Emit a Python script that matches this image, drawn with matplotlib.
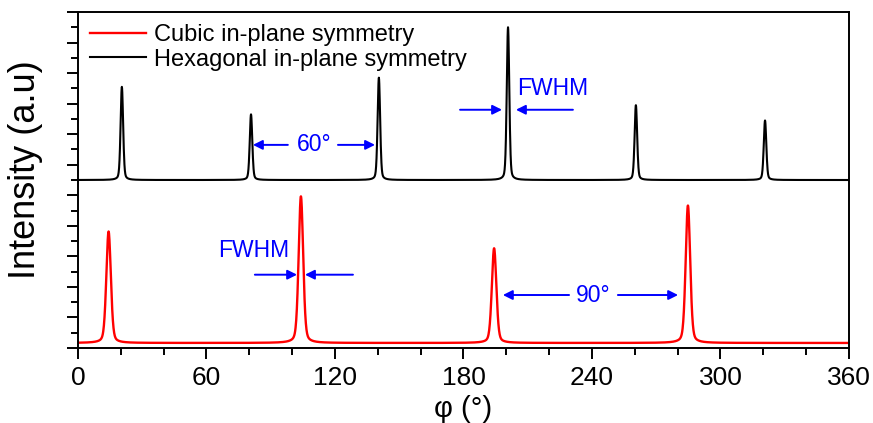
import matplotlib
matplotlib.use("Agg")
import matplotlib.pyplot as plt
import numpy as np

plt.rcParams['font.family'] = ['Liberation Sans', 'DejaVu Sans']

# peak centres (deg), heights above baseline and widths (FWHM, deg)
hex_pos = [20.5, 80.8, 140.5, 200.8, 260.5, 320.8]
hex_height = [6.1, 4.3, 6.7, 10.0, 4.9, 3.9]
hex_fwhm = 1.4
hex_base = 11.0

cub_pos = [14.3, 104.1, 194.3, 284.8]
cub_height = [7.3, 9.6, 6.2, 9.0]
cub_fwhm = 2.5
cub_base = 0.33

phi = np.linspace(0, 360, 3601)


def profile(pos, height, fwhm, base, eta=0.3):
    # pseudo-Voigt peaks on a flat background
    sig = fwhm / 2.3548
    gam = fwhm / 2
    y = np.full_like(phi, base)
    for p, h in zip(pos, height):
        g = np.exp(-0.5 * ((phi - p) / sig) ** 2)
        l = 1 / (1 + ((phi - p) / gam) ** 2)
        y += h * ((1 - eta) * g + eta * l)
    return y


fig = plt.figure(figsize=(8.73, 4.23), dpi=100)
ax = fig.add_axes([0.0893, 0.1773, 0.8832, 0.7943])

ax.plot(phi, profile(cub_pos, cub_height, cub_fwhm, cub_base), color='red',
        lw=1.7, label='Cubic in-plane symmetry')
ax.plot(phi, profile(hex_pos, hex_height, hex_fwhm, hex_base), color='black',
        lw=1.5, label='Hexagonal in-plane symmetry')

ax.set_xlim(0, 360)
ax.set_ylim(0, 22)
ax.set_xticks(np.arange(0, 361, 60))
ax.set_xticks(np.arange(0, 361, 20), minor=True)
ax.set_yticks(np.arange(0, 23, 2))
ax.set_yticks(np.arange(0, 23, 1), minor=True)
ax.set_yticklabels([])
ax.tick_params(which='major', length=8, width=1.4, labelsize=19, pad=5)
ax.tick_params(which='minor', length=5, width=1.4)
for s in ax.spines.values():
    s.set_linewidth(1.4)

ax.set_xlabel('φ (°)', fontsize=21)
ax.xaxis.set_label_coords(0.5, -0.14)
ax.set_ylabel('Intensity (a.u)', fontsize=26)
ax.yaxis.set_label_coords(-0.045, 0.53)

ax.legend(loc='upper left', frameon=False, fontsize=17, handlelength=2.4,
          handletextpad=0.3, labelspacing=0.12, borderaxespad=0.1)

arrow = dict(arrowstyle='-|>', color='blue', lw=1.4, mutation_scale=14,
             shrinkA=0, shrinkB=0)
blue = dict(color='blue', fontsize=16.5)

# 60 deg spacing between hexagonal peaks
ax.annotate('', xy=(81.7, 13.3), xytext=(98, 13.3), arrowprops=arrow)
ax.annotate('', xy=(138.7, 13.3), xytext=(121.4, 13.3), arrowprops=arrow)
ax.text(110.5, 13.3, '60°', ha='center', va='center', **blue)

# FWHM of hexagonal peak
ax.annotate('', xy=(198.0, 15.6), xytext=(178.4, 15.6), arrowprops=arrow)
ax.annotate('', xy=(204.5, 15.6), xytext=(231.1, 15.6), arrowprops=arrow)
ax.text(205, 17.0, 'FWHM', ha='left', va='center', **blue)

# FWHM of cubic peak
ax.annotate('', xy=(102.3, 4.8), xytext=(82.6, 4.8), arrowprops=arrow)
ax.annotate('', xy=(106.0, 4.8), xytext=(128.4, 4.8), arrowprops=arrow)
ax.text(65.4, 6.4, 'FWHM', ha='left', va='center', **blue)

# 90 deg spacing between cubic peaks
ax.annotate('', xy=(198.4, 3.47), xytext=(229.3, 3.47), arrowprops=arrow)
ax.annotate('', xy=(280.2, 3.47), xytext=(252.1, 3.47), arrowprops=arrow)
ax.text(240.5, 3.47, '90°', ha='center', va='center', **blue)

fig.savefig('out.png', dpi=100)
